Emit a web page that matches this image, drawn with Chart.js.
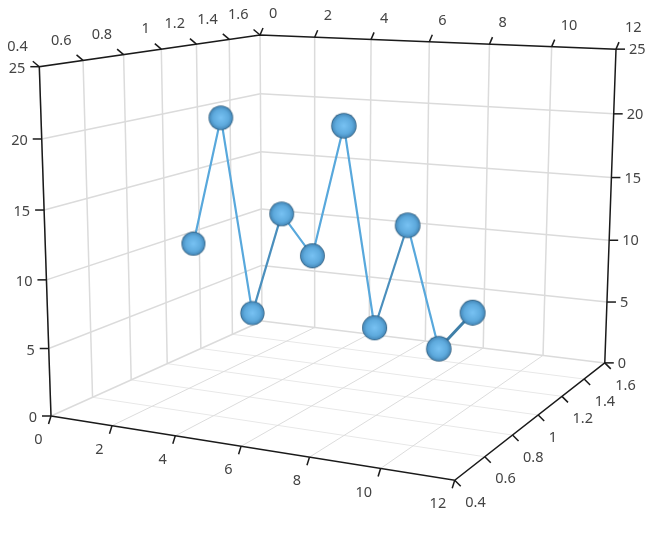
<!DOCTYPE html>
<html lang="en">
<head>
  <meta charset="UTF-8" />
  <title>3D line chart</title>
  <script src="https://cdn.jsdelivr.net/npm/chart.js"></script>
  <style>
    html, body { margin: 0; padding: 0; background: #fff; }
    canvas { display: block; }
  </style>
</head>
<body>
  <canvas id="chart3d" width="668" height="536"></canvas>

  <script>
    // data
    const xValues = [1, 2, 3, 4, 5, 6, 7, 8, 9, 10];
    const yValues = [10, 20, 5, 13, 10, 20, 5, 13, 4, 7];
    const depthValue = 1;
    const xTicks = [0, 2, 4, 6, 8, 10, 12];
    const yTicks = [0, 5, 10, 15, 20, 25];
    const depthTicks = [0.4, 0.6, 0.8, 1, 1.2, 1.4, 1.6];

    const xMax = 12, yMax = 25, dMin = 0.4, dMax = 1.6;

    // perspective: pixel corners of the box + the three w factors
    const A = [51, 416], B = [454.7, 480.3], D = [262, 321], E = [39.3, 66.7];
    const P = -0.1103, Q = 0.226, R = -0.042;
    const vecU = [B[0] * (1 + P) - A[0], B[1] * (1 + P) - A[1]];
    const vecV = [D[0] * (1 + Q) - A[0], D[1] * (1 + Q) - A[1]];
    const vecW = [E[0] * (1 + R) - A[0], E[1] * (1 + R) - A[1]];

    function depthFactor(x, y, d) {
      return 1 + P * x / xMax + Q * (d - dMin) / (dMax - dMin) + R * y / yMax;
    }
    function project(x, y, d) {
      const u = x / xMax, v = (d - dMin) / (dMax - dMin), w = y / yMax;
      const k = depthFactor(x, y, d);
      return {
        x: (A[0] + u * vecU[0] + v * vecV[0] + w * vecW[0]) / k,
        y: (A[1] + u * vecU[1] + v * vecV[1] + w * vecW[1]) / k
      };
    }

    function lineSet(points, color, width) {
      return {
        data: points, showLine: true, borderColor: color, borderWidth: width,
        pointRadius: 0, tension: 0
      };
    }
    function tickLine(p, dx, dy) {
      return lineSet([p, { x: p.x + dx, y: p.y + dy }], AXIS, 1.5);
    }

    const AXIS = '#1a1a1a', WALL = '#dbdbdb', FLOOR_X = '#dcdcdc', FLOOR_D = '#e8e8e8';

    const back = [], front = [];

    // back wall + side wall grid
    xTicks.slice(0, -1).forEach(x => back.push(lineSet([project(x, 0, dMax), project(x, yMax, dMax)], WALL, 1.5)));
    depthTicks.slice(0, -1).forEach(d => back.push(lineSet([project(0, 0, d), project(0, yMax, d)], WALL, 1.5)));
    yTicks.slice(0, -1).forEach(y => {
      back.push(lineSet([project(0, y, dMax), project(xMax, y, dMax)], WALL, 1.5));
      back.push(lineSet([project(0, y, dMin), project(0, y, dMax)], WALL, 1.5));
    });
    // floor grid
    xTicks.slice(1, -1).forEach(x => back.push(lineSet([project(x, 0, dMin), project(x, 0, dMax)], FLOOR_X, 1)));
    depthTicks.slice(1, -1).forEach(d => back.push(lineSet([project(0, 0, d), project(xMax, 0, d)], FLOOR_D, 1)));

    // black box edges
    front.push(lineSet([project(0, 0, dMin), project(xMax, 0, dMin), project(xMax, 0, dMax), project(xMax, yMax, dMax), project(0, yMax, dMax), project(0, yMax, dMin), project(0, 0, dMin)], AXIS, 1.5));

    // tick marks
    yTicks.forEach(y => {
      front.push(tickLine(project(0, y, dMin), -9, 0));
      front.push(tickLine(project(xMax, y, dMax), 9, 0));
    });
    xTicks.forEach(x => {
      front.push(tickLine(project(x, yMax, dMax), 3, -7));
      front.push(tickLine(project(x, 0, dMin), -2.5, 8));
    });
    depthTicks.forEach(d => {
      front.push(tickLine(project(0, yMax, d), -6.5, -5.5));
      front.push(tickLine(project(xMax, 0, d), 6, 6));
    });

    // spheres, bigger when closer
    function makeSphere(r) {
      const c = document.createElement('canvas');
      c.width = c.height = Math.ceil(r * 2) + 2;
      const g = c.getContext('2d');
      const m = c.width / 2;
      const grad = g.createRadialGradient(m, m, 0, m, m, r);
      grad.addColorStop(0, '#78c2f3');
      grad.addColorStop(0.65, '#5eaadd');
      grad.addColorStop(0.9, '#4a8fc0');
      grad.addColorStop(0.97, '#2a5f85');
      grad.addColorStop(1, '#234c69');
      g.fillStyle = grad;
      g.beginPath();
      g.arc(m, m, r, 0, Math.PI * 2);
      g.fill();
      return c;
    }

    const seriesPoints = xValues.map((x, i) => project(x, yValues[i], depthValue));
    const spheres = xValues.map((x, i) => makeSphere(13 / depthFactor(x, yValues[i], depthValue)));
    const segmentColors = ['#58a8dc', '#58a8dc', '#4a8fbd', '#58a8dc', '#58a8dc', '#58a8dc', '#4a8fbd', '#58a8dc', '#3f7fa8'];

    const seriesSet = {
      data: seriesPoints,
      showLine: true,
      tension: 0,
      borderColor: '#58a8dc',
      borderWidth: 2.2,
      segment: {
        borderColor: c => segmentColors[c.p0DataIndex],
        borderWidth: c => c.p0DataIndex === 8 ? 3 : 2.2
      },
      pointRadius: 12,
      pointStyle: c => spheres[c.dataIndex]
    };

    // tick labels: [text, anchor, dx, dy, align]
    const labels = [];
    yTicks.forEach(y => {
      labels.push([String(y), project(0, y, dMin), -14, 2, 'right']);
      labels.push([String(y), project(xMax, y, dMax), 13, 1, 'left']);
    });
    xTicks.forEach(x => {
      labels.push([String(x), project(x, yMax, dMax), 9, -21, 'left']);
      labels.push([String(x), project(x, 0, dMin), -8.5, 24, 'right']);
    });
    depthTicks.forEach(d => {
      labels.push([String(d), project(0, yMax, d), -11.5, -20, 'right']);
      labels.push([String(d), project(xMax, 0, d), 10.5, 22.5, 'left']);
    });

    const tickLabelPlugin = {
      id: 'tickLabels',
      afterDraw(chart) {
        const ctx = chart.ctx;
        const sx = chart.scales.x, sy = chart.scales.y;
        ctx.save();
        ctx.font = '14.5px "Noto Sans"';
        ctx.fillStyle = '#444444';
        ctx.textBaseline = 'middle';
        labels.forEach(([text, p, dx, dy, align]) => {
          ctx.textAlign = align;
          ctx.fillText(text, sx.getPixelForValue(p.x) + dx, sy.getPixelForValue(p.y) + dy);
        });
        ctx.restore();
      }
    };

    new Chart(document.getElementById('chart3d'), {
      type: 'scatter',
      data: { datasets: [seriesSet, ...front, ...back] },
      options: {
        responsive: false,
        animation: false,
        layout: { padding: 0, autoPadding: false },
        plugins: { legend: { display: false }, tooltip: { enabled: false } },
        scales: {
          x: { type: 'linear', min: 0, max: 668, display: false },
          y: { type: 'linear', min: 0, max: 536, reverse: true, display: false }
        }
      },
      plugins: [tickLabelPlugin]
    });
  </script>
</body>
</html>
